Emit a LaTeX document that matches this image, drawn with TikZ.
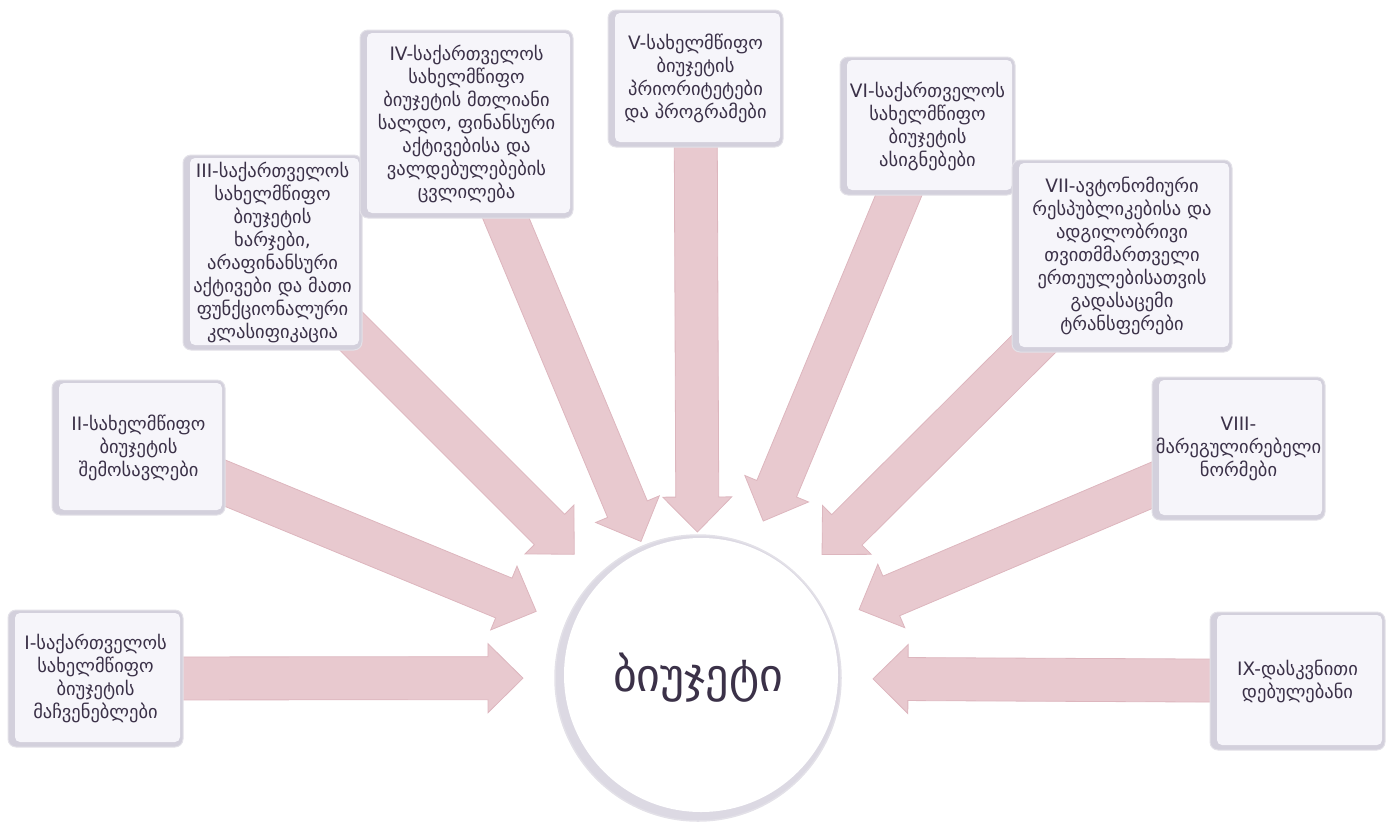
\documentclass[tikz,border=0pt]{standalone}
\usepackage{fontspec}
\setmainfont{DejaVu Sans}
\usepackage{tikz}
\usetikzlibrary{calc}
\definecolor{ink}{HTML}{3B3148}
\definecolor{arrowpink}{HTML}{E8C9CF}
\definecolor{arrowedge}{HTML}{DDB6BE}
\definecolor{rimgray}{HTML}{D3D0DC}
\definecolor{rimline}{HTML}{E3E1E8}
\definecolor{facelilac}{HTML}{F6F5FA}
\pgfdeclarelayer{back}
\pgfsetlayers{back,main}
\tikzstyle{topic}=[rectangle,rounded corners=8pt,fill=rimgray,draw=rimline,line width=1pt,align=center,text=ink,font=\fontsize{18.5}{23}\selectfont,inner sep=0pt,path picture={\fill[facelilac,rounded corners=5pt] ([xshift=7pt,yshift=5pt]path picture bounding box.south west) rectangle ([xshift=-3pt,yshift=-3pt]path picture bounding box.north east);}]
\tikzstyle{hub}=[circle,minimum size=286pt,fill=rimgray!80,draw=rimline,line width=1.5pt,text=ink,font=\fontsize{46}{52}\selectfont,path picture={\fill[white] ([xshift=3pt,yshift=3pt]path picture bounding box.center) circle (137pt);}]
\tikzstyle{blockarrow}=[fill=arrowpink,draw=arrowedge,line width=0.8pt,line join=miter]
\newcommand{\convarrow}[2]{%
  \coordinate (h#2) at ($(#2)!35pt!(#1)$);
  \filldraw[blockarrow] ($(#1)!21.5pt!90:(#2)$) -- ($(h#2)!21.5pt!90:(#2)$) -- ($(h#2)!34.5pt!90:(#2)$) -- (#2)
    -- ($(h#2)!34.5pt!-90:(#2)$) -- ($(h#2)!21.5pt!-90:(#2)$) -- ($(#1)!21.5pt!-90:(#2)$) -- cycle;}

\begin{document}
\begin{tikzpicture}
	[x=1pt,y=-1pt]
	\useasboundingbox (0,0) rectangle (1390,823);
	\node (0) [hub] at (698,678) {ბიუჯეტი};
	\node (1) [topic,minimum width=175pt,minimum height=137pt] at (95.5,678.5) {I-საქართველოს\\სახელმწიფო\\ბიუჯეტის\\მაჩვენებლები};
	\node (2) [topic,minimum width=173pt,minimum height=135pt] at (138.5,447.5) {II-სახელმწიფო\\ბიუჯეტის\\შემოსავლები};
	\node (3) [topic,minimum width=179pt,minimum height=195pt] at (272.5,252.5) {III-საქართველოს\\სახელმწიფო\\ბიუჯეტის\\ხარჯები,\\არაფინანსური\\აქტივები და მათი\\ფუნქციონალური\\კლასიფიკაცია};
	\node (4) [topic,minimum width=213pt,minimum height=188pt] at (466.5,124) {IV-საქართველოს\\სახელმწიფო\\ბიუჯეტის მთლიანი\\სალდო, ფინანსური\\აქტივებისა და\\ვალდებულებების\\ცვლილება};
	\node (5) [topic,minimum width=175pt,minimum height=137pt] at (695.5,78.5) {V-სახელმწიფო\\ბიუჯეტის\\პრიორიტეტები\\და პროგრამები};
	\node (6) [topic,minimum width=175pt,minimum height=138pt] at (927.5,126) {VI-საქართველოს\\სახელმწიფო\\ბიუჯეტის\\ასიგნებები};
	\node (7) [topic,minimum width=220pt,minimum height=192pt] at (1122,256) {VII-ავტონომიური\\რესპუბლიკებისა და\\ადგილობრივი\\თვითმმართველი\\ერთეულებისათვის\\გადასაცემი\\ტრანსფერები};
	\node (8) [topic,minimum width=173pt,minimum height=143pt] at (1238.5,448.5) {VIII-\\მარეგულირებელი\\ნორმები};
	\node (9) [topic,minimum width=175pt,minimum height=138pt] at (1297.5,681) {IX-დასკვნითი\\დებულებანი};
	\begin{pgfonlayer}{back}
	\foreach \i/\gap in {1/175,2/175,3/175,4/148,5/146,6/170,7/175,8/175,9/175} {
		\coordinate (t\i) at ($(0)!\gap pt!(\i)$);
		\convarrow{\i}{t\i}
	}
	\end{pgfonlayer}
\end{tikzpicture}
\end{document}
